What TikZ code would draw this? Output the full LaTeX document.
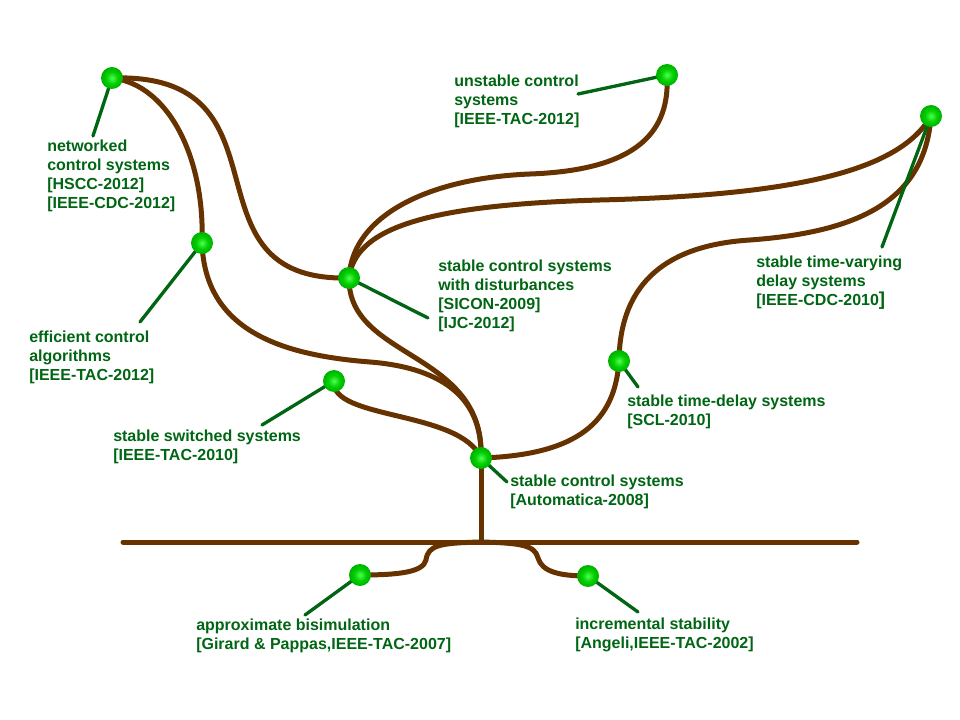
\documentclass[tikz,border=0pt]{standalone}
\usepackage{fontspec}
\setmainfont{Liberation Sans}
\definecolor{bark}{RGB}{102,51,0}
\definecolor{leaf}{RGB}{0,102,20}
\definecolor{ballhi}{RGB}{80,255,80}
\definecolor{ballmid}{RGB}{0,205,0}
\definecolor{balldark}{RGB}{0,140,0}
\definecolor{balledge}{RGB}{0,100,0}
\pgfdeclareradialshading{greenball}{\pgfpoint{0bp}{0bp}}{color(0bp)=(ballhi); color(14bp)=(ballmid); color(40bp)=(balldark); color(50bp)=(balledge); color(100bp)=(balledge)}
\begin{document}
\begin{tikzpicture}[x=0.75pt, y=-0.75pt, line join=round, line cap=round,
	branch/.style={draw=bark, line width=3.75pt},
	pin/.style={draw=leaf, line width=2.5pt},
	knot/.style={circle, minimum size=16.5pt, inner sep=0pt, shade, shading=greenball},
	lbl/.style={anchor=north west, inner sep=0pt, align=left, text=leaf, font=\bfseries\fontsize{12}{14.2}\selectfont}]
			\useasboundingbox[fill=white] (0,0) rectangle (960,720);
			\coordinate (root) at (481,458);
			\coordinate (net) at (112,78);
			\coordinate (eff) at (202,243);
			\coordinate (dist) at (349,278);
			\coordinate (unst) at (667,75);
			\coordinate (tvd) at (931,116);
			\coordinate (td) at (619,361);
			\coordinate (sw) at (334,381);
			\coordinate (bisim) at (360,575);
			\coordinate (incr) at (588,576);
			\coordinate (base) at (481,542);
			\coordinate (gl) at (123,542);
			\coordinate (gr) at (857,542);
			\draw[branch] (gl) -- (gr) (root) -- (base);
			\draw[branch] (base) .. controls (440,543) and (428,545) .. (426,560) .. controls (423,572) and (400,575) .. (bisim);
			\draw[branch] (base) .. controls (520,543) and (535,545) .. (538,558) .. controls (542,572) and (560,576) .. (incr);
			\draw[branch] (sw) .. controls (330,420) and (460,410) .. (root);
			\draw[branch] (root) .. controls (580,455) and (615,420) .. (td);
			\draw[branch] (td) .. controls (620,280) and (670,245) .. (750,240) .. controls (860,232) and (925,200) .. (tvd);
			\draw[branch] (dist) .. controls (348,360) and (485,350) .. (root);
			\draw[branch] (eff) .. controls (205,330) and (280,355) .. (370,362) .. controls (445,368) and (483,400) .. (root);
			\draw[branch] (net) .. controls (170,85) and (205,160) .. (eff);
			\draw[branch] (net) .. controls (300,72) and (175,282) .. (dist);
			\draw[branch] (dist) .. controls (352,215) and (430,178) .. (530,174) .. controls (640,170) and (670,130) .. (unst);
			\draw[branch] (dist) .. controls (355,230) and (420,205) .. (600,200) .. controls (800,195) and (900,170) .. (tvd);
			\coordinate (netp) at (93,136);
			\coordinate (effp) at (140,322);
			\coordinate (distp) at (428,318);
			\coordinate (unstp) at (578,94);
			\coordinate (tvdp) at (882,247);
			\coordinate (tdp) at (638,387);
			\coordinate (swp) at (262,425);
			\coordinate (rootp) at (507,482);
			\coordinate (bisimp) at (305,615);
			\coordinate (incrp) at (638,612);
			\draw[pin] (net) -- (netp) (eff) -- (effp) (dist) -- (distp) (unst) -- (unstp) (tvd) -- (tvdp);
			\draw[pin] (td) -- (tdp) (sw) -- (swp) (root) -- (rootp) (bisim) -- (bisimp) (incr) -- (incrp);
			\foreach \n in {net,eff,dist,unst,tvd,td,sw,root,bisim,incr}
				\node[knot] (\n-k) at (\n) {};
			\node[lbl] (net-l) at (47,140) {networked\\control systems\\{}[HSCC-2012]\\{}[IEEE-CDC-2012]};
			\node[lbl] (eff-l) at (29,331) {efficient control\\algorithms\\{}[IEEE-TAC-2012]};
			\node[lbl] (dist-l) at (438,260) {stable control systems\\with disturbances\\{}[SICON-2009]\\{}[IJC-2012]};
			\node[lbl] (unst-l) at (454,75) {unstable control\\systems\\{}[IEEE-TAC-2012]};
			\node[lbl] (tvd-l) at (756,256) {stable time-varying\\delay systems\\{}[IEEE-CDC-2010{\fontsize{14}{14}\selectfont]}};
			\node[lbl] (td-l) at (627,395) {stable time-delay systems\\{}[SCL-2010]};
			\node[lbl] (sw-l) at (113,430) {stable switched systems\\{}[IEEE-TAC-2010]};
			\node[lbl] (root-l) at (510,475) {stable control systems\\{}[Automatica-2008]};
			\node[lbl] (bisim-l) at (196,619) {approximate bisimulation\\{}[Girard \& Pappas,IEEE-TAC-2007]};
			\node[lbl] (incr-l) at (575,618) {incremental stability\\{}[Angeli,IEEE-TAC-2002]};
		\end{tikzpicture}
\end{document}
